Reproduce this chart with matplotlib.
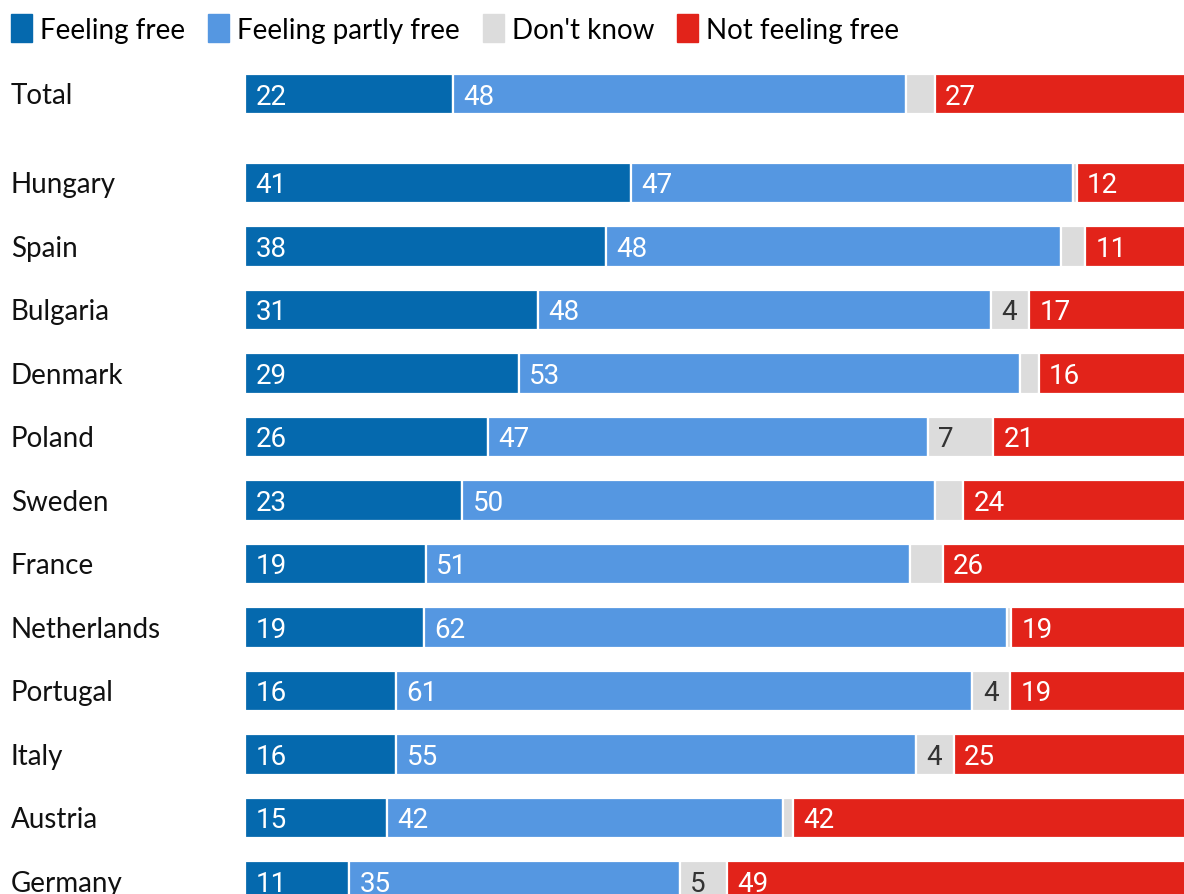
import numpy as np
import matplotlib
matplotlib.use('Agg')
import matplotlib.pyplot as plt

# data
countries = ['Total', 'Hungary', 'Spain', 'Bulgaria', 'Denmark', 'Poland', 'Sweden',
             'France', 'Netherlands', 'Portugal', 'Italy', 'Austria', 'Germany']
free = [22, 41, 38, 31, 29, 26, 23, 19, 19, 16, 16, 15, 11]
partly = [48, 47, 48, 48, 53, 47, 50, 51, 62, 61, 55, 42, 35]
dont_know = [3, 0.4, 2.5, 4, 2, 7, 3, 3.4, 0.4, 4, 4, 1, 5]
not_free = [27, 12, 11, 17, 16, 21, 24, 26, 19, 19, 25, 42, 49]
dk_labelled = [False, False, False, True, False, True, False,
               False, False, True, True, False, True]

series_names = ['Feeling free', 'Feeling partly free', "Don't know", 'Not feeling free']
colors = ['#0569ae', '#5597e1', '#dcdcdc', '#e2231a']
text_colors = ['white', 'white', '#333333', 'white']

plt.rcParams['font.family'] = ['Lato', 'DejaVu Sans']

fig = plt.figure(figsize=(11.84, 8.95), dpi=100)
W, H = 1184, 895
bar_left = 245
ax = fig.add_axes([bar_left / W, 0, 1 - bar_left / W, 1])

# row positions: gap after Total
ypos = np.array([-1.4] + list(range(len(countries) - 1)), dtype=float)
step = 63.5  # pixels per row
ax.set_ylim((H - 184) / step, -184 / step)
ax.set_xlim(0, 99.4)
ax.axis('off')

data = np.array([free, partly, dont_know, not_free], dtype=float)
shares = data / data.sum(axis=0) * 100  # every bar fills the full width

left = np.zeros(len(countries))
for k, (vals, raw, col, tcol) in enumerate(zip(shares, data, colors, text_colors)):
    ax.barh(ypos, vals, left=left, height=0.63, color=col,
            edgecolor='white', linewidth=1.6)
    for i, (y, l, v) in enumerate(zip(ypos, left, raw)):
        show = dk_labelled[i] if k == 2 else v > 0
        if show:
            ax.text(l + 1.1, y + 0.03, f'{v:g}', color=tcol, fontsize=20,
                    family=['Roboto', 'DejaVu Sans'], va='center', ha='left')
    left += vals

# country labels
for name, y in zip(countries, ypos):
    ax.text(-24.8, y + 0.02, name, fontsize=20, va='center', ha='left', color='#111111',
            clip_on=False)

# legend
handles = [plt.Rectangle((0, 0), 1, 1, color=c) for c in colors]
fig.legend(handles, series_names, loc='upper left', bbox_to_anchor=(-0.007, 1.005),
           ncol=4, frameon=False, fontsize=20, handlelength=0.75, handleheight=1.2,
           handletextpad=0.3, columnspacing=0.82, borderaxespad=0.3)

fig.savefig('out.png', dpi=100)
